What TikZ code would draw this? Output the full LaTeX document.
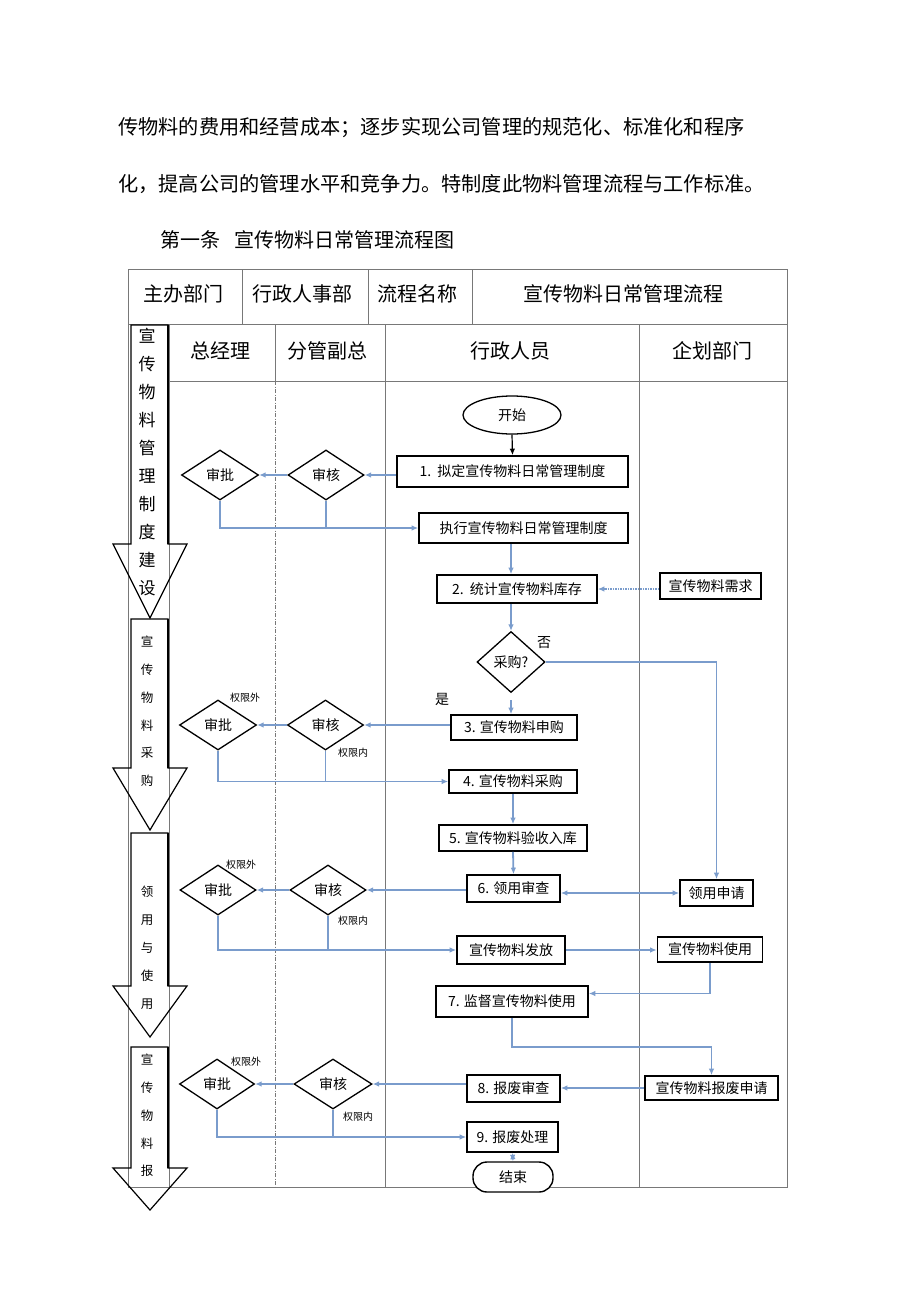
\documentclass[tikz,border=0pt]{standalone}
\usepackage{fontspec}
\newfontfamily\cjk{Noto Sans CJK SC}
\usetikzlibrary{arrows.meta,shapes.geometric,positioning,calc}
\definecolor{flowblue}{RGB}{122,156,204}
\definecolor{gridgray}{RGB}{120,120,120}

\begin{document}
\begin{tikzpicture}[x=1pt,y=-1pt,
  >={Latex[length=6.5pt,width=5.5pt]},
  every node/.style={font=\cjk\fontsize{14}{16}\selectfont, inner sep=0pt},
  big/.style={font=\cjk\fontsize{20}{24}\selectfont},
  small/.style={font=\cjk\fontsize{10}{12}\selectfont},
  box/.style={draw, line width=1.6pt, fill=white},
  dmd/.style={draw, diamond, aspect=1.5, line width=1.3pt, minimum width=76, minimum height=50},
  flow/.style={draw=flowblue, line width=1.8pt, ->},
  link/.style={draw=flowblue, line width=1.8pt},
  grid/.style={draw=gridgray, line width=0.8pt},
  phase/.style={draw, line width=1.2pt}]
\useasboundingbox (0,0) rectangle (920,1303);

\node[big, anchor=west, font=\cjk\fontsize{20.2}{24}\selectfont] (para1) at (118,128) {传物料的费用和经营成本；逐步实现公司管理的规范化、标准化和程序};
\node[big, anchor=west, font=\cjk\fontsize{20.2}{24}\selectfont] (para2) at (118,184) {化，提高公司的管理水平和竞争力。特制度此物料管理流程与工作标准。};
\node[big, anchor=west] (title) at (160,240) {第一条\hspace{0.7em}宣传物料日常管理流程图};

\draw[grid] (128,269) rectangle (787,1187);
\draw[grid] (128,324) -- (787,324);
\draw[grid] (169,381) -- (787,381);
\foreach \x in {242,368,472} \draw[grid] (\x,269) -- (\x,324);
\foreach \x in {169,385,639} \draw[grid] (\x,324) -- (\x,1187);
\draw[grid] (275,324) -- (275,381);
\draw[grid, dash pattern=on 4pt off 1.5pt on 1pt off 1.5pt] (275,381) -- (275,1187);

\node[big] (hdept) at (183,294) {主办部门};
\node[big] (hadmin) at (302,294) {行政人事部};
\node[big] (hname) at (417,294) {流程名称};
\node[big] (htitle) at (623,294) {宣传物料日常管理流程};
\node[big] (lgm) at (220,351) {总经理};
\node[big] (lvp) at (327,351) {分管副总};
\node[big] (lstaff) at (510,351) {行政人员};
\node[big] (lplan) at (712,351) {企划部门};

\foreach \t/\b/\p in {325/544/618,619/768/830,833/986/1037,1047/1168/1210}{
  \draw[phase] (131,\t) -- (168,\t) -- (168,\b) -- (187,\b) -- (150,\p) -- (113,\b) -- (131,\b) -- cycle;
  \draw[line width=2.4pt] (168,\t) -- (168,\b);
}
\foreach \ch [count=\i] in {宣,传,物,料,管,理,制,度,建,设}
  \node[font=\cjk\fontsize{17}{17}\selectfont] (pa\i) at (147,{336+28*(\i-1)}) {\ch};
\foreach \ch [count=\i] in {宣,传,物,料,采,购}
  \node[font=\cjk\fontsize{12.5}{13}\selectfont] (pb\i) at (147,{642+27.8*(\i-1)}) {\ch};
\foreach \ch [count=\i] in {领,用,与,使,用}
  \node[font=\cjk\fontsize{12.5}{13}\selectfont] (pc\i) at (147,{892+28*(\i-1)}) {\ch};
\foreach \ch [count=\i] in {宣,传,物,料,报}
  \node[font=\cjk\fontsize{12.5}{13}\selectfont] (pd\i) at (147,{1060+27.8*(\i-1)}) {\ch};

\node[ellipse, draw, line width=1.3pt, minimum width=98, minimum height=38] (start) at (512,415) {开始};
\node[box, minimum width=231, minimum height=31] (draft) at (512.5,471.5) {1.~~拟定宣传物料日常管理制度};
\node[box, minimum width=209, minimum height=30] (exec) at (523.5,528) {执行宣传物料日常管理制度};
\node[box, minimum width=160, minimum height=28] (count) at (517,589) {2.~~统计宣传物料库存};
\node[box, minimum width=101, minimum height=26] (need) at (710.5,586) {宣传物料需求};
\node[dmd, minimum width=68, minimum height=61] (buy) at (511,662) {采购?};
\node[box, minimum width=126, minimum height=25] (apply) at (514,727.5) {3. 宣传物料申购};
\node[box, minimum width=128, minimum height=23] (purchase) at (513,781.5) {4. 宣传物料采购};
\node[box, minimum width=148, minimum height=26] (accept) at (513,838) {5. 宣传物料验收入库};
\node[box, minimum width=93, minimum height=27] (review) at (513.5,888.5) {6. 领用审查};
\node[box, minimum width=73, minimum height=26] (request) at (716.5,893) {领用申请};
\node[box, minimum width=108, minimum height=28] (issue) at (511,950) {宣传物料发放};
\node[box, minimum width=105, minimum height=25] (use) at (710,949.5) {宣传物料使用};
\node[box, minimum width=152, minimum height=31] (watch) at (512,1001.5) {7. 监督宣传物料使用};
\node[box, minimum width=133, minimum height=24] (scrapreq) at (711.5,1088) {宣传物料报废申请};
\node[box, minimum width=93, minimum height=27] (scrapchk) at (513.5,1088.5) {8. 报废审查};
\node[box, minimum width=91, minimum height=30] (scrap) at (512.5,1137) {9. 报废处理};
\node[draw, fill=white, line width=1.4pt, rounded corners=14pt, minimum width=80, minimum height=30] (end) at (513,1177) {结束};

\node[dmd] (chk1) at (326,475) {审核};
\node[dmd, minimum width=77] (apv1) at (220,475) {审批};
\node[dmd] (chk2) at (325.5,725) {审核};
\node[dmd, minimum width=77] (apv2) at (218,725) {审批};
\node[dmd] (chk3) at (328,890) {审核};
\node[dmd] (apv3) at (218,890) {审批};
\node[dmd, minimum width=78] (chk4) at (333,1084) {审核};
\node[dmd, minimum width=75] (apv4) at (217,1084) {审批};

\node (no) at (544,643) {否};
\node (yes) at (442,699) {是};
\node[small] (out2) at (245,698) {权限外};
\node[small] (in2) at (353,753) {权限内};
\node[small] (out3) at (241,865) {权限外};
\node[small] (in3) at (353,921) {权限内};
\node[small] (out4) at (246,1062) {权限外};
\node[small] (in4) at (358,1117) {权限内};

\draw[->, line width=1.2pt] (start.south) -- (draft.north);
\draw[flow] (draft.west |- chk1.east) -- (chk1.east);
\draw[flow] (chk1.west) -- (apv1.east);
\draw[flow] (apv1.south) |- (exec.west);
\draw[link] (chk1.south) -- (chk1.south |- exec.west);
\draw[flow] (buy.north |- exec.south) -- (buy.north |- count.north);
\draw[flow, dash pattern=on 1.5pt off 1pt] (need.west |- count.east) -- (count.east);
\draw[flow] (buy.north |- count.south) -- (buy.north);
\draw[flow] (buy.east) -| (request.north);
\draw[flow, shorten <=7pt] (buy.south) -- (buy.south |- apply.north);
\draw[flow] (apply.west |- chk2.east) -- (chk2.east);
\draw[flow] (chk2.west) -- (apv2.east);
\draw[flow] (apv2.south) |- (purchase.west);
\draw[link] (chk2.south) -- (chk2.south |- purchase.west);
\draw[flow] (purchase.south) -- (accept.north);
\draw[flow] (accept.south) -- (review.north);
\draw[flow, <->] (request.west -| review.east) -- (request.west);
\draw[flow] (review.west |- chk3.east) -- (chk3.east);
\draw[flow] (chk3.west) -- (apv3.east);
\draw[flow] (apv3.south) |- (issue.west);
\draw[link] (chk3.south) -- (chk3.south |- issue.west);
\draw[flow] (issue.east) -- (use.west |- issue.east);
\draw[flow] (use.south) |- ([yshift=8pt]watch.east);
\draw[flow] (watch.south) -- ++(0,29) -| (scrapreq.north);
\draw[flow] (scrapreq.west) -- (scrapreq.west -| scrapchk.east);
\draw[flow] (scrapchk.west |- chk4.east) -- (chk4.east);
\draw[flow] (chk4.west) -- (apv4.east);
\draw[flow] (apv4.south) |- (scrap.west);
\draw[link] (chk4.south) -- (chk4.south |- scrap.west);
\draw[flow, <->] (scrap.south) -- (end.north);
\end{tikzpicture}
\end{document}
